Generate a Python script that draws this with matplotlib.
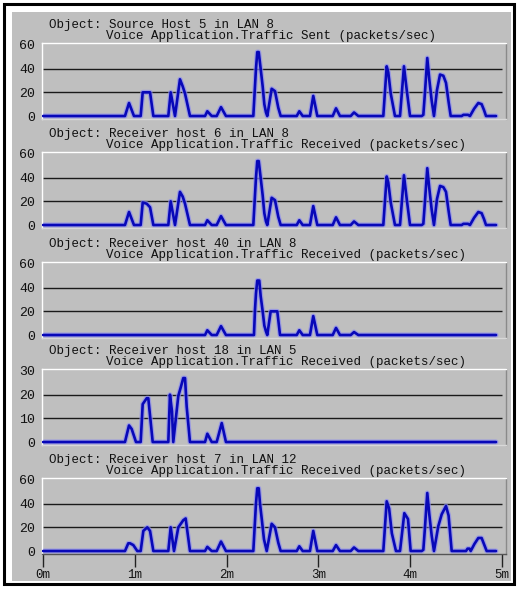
import matplotlib
matplotlib.use("Agg")
import matplotlib.pyplot as plt
from matplotlib.patches import Rectangle

# ---------------- data (time in minutes, packets/sec) ----------------
titles_obj = [
    "Object: Source Host 5 in LAN 8",
    "Object: Receiver host 6 in LAN 8",
    "Object: Receiver host 40 in LAN 8",
    "Object: Receiver host 18 in LAN 5",
    "Object: Receiver host 7 in LAN 12",
]
titles_stat = [
    "Voice Application.Traffic Sent (packets/sec)",
    "Voice Application.Traffic Received (packets/sec)",
    "Voice Application.Traffic Received (packets/sec)",
    "Voice Application.Traffic Received (packets/sec)",
    "Voice Application.Traffic Received (packets/sec)",
]
y_ticks_60 = [0, 20, 40, 60]
y_ticks_30 = [0, 10, 20, 30]
x_ticks = [0, 1, 2, 3, 4, 5]
x_labels = ["0m", "1m", "2m", "3m", "4m", "5m"]

src_host5 = [(0, 0), (0.893, 0), (0.937, 11), (0.991, 0), (1.064, 0), (1.086, 20), (1.166, 20),
             (1.202, 0), (1.365, 0), (1.391, 20), (1.438, 0), (1.492, 31), (1.522, 25), (1.547, 19),
             (1.601, 0), (1.765, 0), (1.790, 4), (1.838, 0), (1.892, 0), (1.939, 7.5), (1.993, 0),
             (2.291, 0), (2.309, 25), (2.320, 40), (2.334, 54), (2.350, 54), (2.371, 40), (2.393, 25),
             (2.411, 10), (2.429, 3), (2.443, 0), (2.491, 23), (2.527, 21), (2.563, 7), (2.589, 0),
             (2.764, 0), (2.792, 4), (2.829, 0), (2.908, 0), (2.944, 17), (2.988, 0), (3.156, 0),
             (3.192, 6.5), (3.235, 0), (3.352, 0), (3.388, 3), (3.435, 0), (3.707, 0), (3.744, 42),
             (3.761, 37), (3.788, 19), (3.834, 0), (3.889, 0), (3.932, 42), (3.962, 22), (3.998, 0),
             (4.125, 0), (4.143, 1), (4.161, 20), (4.186, 49), (4.208, 31), (4.234, 13), (4.259, 0),
             (4.292, 22), (4.325, 35), (4.361, 34), (4.390, 28), (4.418, 12), (4.441, 0), (4.561, 0),
             (4.579, 1), (4.630, 1), (4.651, 0), (4.695, 6), (4.742, 11), (4.778, 10), (4.804, 5),
             (4.826, 0), (4.935, 0)]

rcv_host6 = [(0, 0), (0.893, 0), (0.937, 11), (0.991, 0), (1.064, 0), (1.086, 19), (1.130, 18),
             (1.166, 15), (1.202, 0), (1.365, 0), (1.391, 20), (1.438, 0), (1.492, 28), (1.522, 24),
             (1.547, 18), (1.601, 0), (1.765, 0), (1.790, 4), (1.838, 0), (1.892, 0), (1.939, 7.5),
             (1.993, 0), (2.291, 0), (2.309, 25), (2.320, 40), (2.334, 54), (2.350, 54), (2.371, 40),
             (2.393, 25), (2.411, 10), (2.429, 3), (2.443, 0), (2.491, 23), (2.527, 21), (2.563, 7),
             (2.589, 0), (2.764, 0), (2.792, 4), (2.829, 0), (2.908, 0), (2.944, 16), (2.988, 0),
             (3.156, 0), (3.192, 6.5), (3.235, 0), (3.352, 0), (3.388, 3), (3.435, 0), (3.707, 0),
             (3.744, 41), (3.761, 36), (3.788, 19), (3.834, 0), (3.889, 0), (3.932, 42), (3.962, 22),
             (3.998, 0), (4.125, 0), (4.143, 1), (4.161, 20), (4.186, 48), (4.208, 31), (4.234, 13),
             (4.259, 0), (4.292, 22), (4.325, 33), (4.361, 32), (4.390, 28), (4.418, 12), (4.441, 0),
             (4.561, 0), (4.579, 1), (4.630, 1), (4.651, 0), (4.695, 6), (4.742, 11), (4.778, 10),
             (4.804, 5), (4.826, 0), (4.935, 0)]

rcv_host40 = [(0, 0), (1.765, 0), (1.790, 4), (1.838, 0), (1.892, 0), (1.939, 7.5), (1.993, 0),
              (2.298, 0), (2.309, 21), (2.320, 35), (2.334, 46), (2.356, 46), (2.371, 33),
              (2.393, 20), (2.411, 8), (2.429, 3), (2.443, 0), (2.480, 20), (2.552, 20), (2.582, 0),
              (2.764, 0), (2.792, 4), (2.829, 0), (2.908, 0), (2.944, 16), (2.988, 0), (3.156, 0),
              (3.192, 6), (3.235, 0), (3.352, 0), (3.388, 2.5), (3.435, 0), (4.935, 0)]

rcv_host18 = [(0, 0), (0.893, 0), (0.937, 7), (0.966, 5.5), (1.013, 0), (1.064, 0), (1.086, 16),
              (1.130, 18.5), (1.147, 18.5), (1.195, 0), (1.365, 0), (1.383, 20), (1.405, 13),
              (1.419, 0), (1.474, 19.5), (1.500, 23), (1.528, 27), (1.547, 27), (1.565, 15),
              (1.601, 0), (1.765, 0), (1.790, 3.5), (1.838, 0), (1.892, 0), (1.947, 8), (1.993, 0),
              (4.935, 0)]

rcv_host7 = [(0, 0), (0.893, 0), (0.929, 6.5), (0.948, 6.5), (0.984, 5), (1.027, 0), (1.064, 0),
             (1.093, 17), (1.136, 20), (1.166, 17), (1.202, 0), (1.365, 0), (1.391, 20), (1.427, 0),
             (1.474, 20), (1.528, 26), (1.554, 27.5), (1.601, 0), (1.765, 0), (1.790, 3.5),
             (1.838, 0), (1.892, 0), (1.939, 8), (1.993, 0), (2.291, 0), (2.309, 25), (2.320, 40),
             (2.334, 53), (2.350, 53), (2.364, 40), (2.386, 25), (2.407, 10), (2.437, 0),
             (2.491, 23), (2.527, 20), (2.563, 7), (2.589, 0), (2.764, 0), (2.792, 4), (2.829, 0),
             (2.908, 0), (2.944, 17), (2.988, 0), (3.156, 0), (3.192, 5), (3.235, 0), (3.352, 0),
             (3.388, 3), (3.435, 0), (3.707, 0), (3.744, 42), (3.770, 36), (3.800, 15), (3.845, 0),
             (3.889, 0), (3.936, 32), (3.976, 27), (4.005, 0), (4.125, 0), (4.143, 1), (4.161, 20),
             (4.186, 49), (4.208, 31), (4.234, 13), (4.259, 0), (4.306, 21), (4.343, 31),
             (4.390, 38), (4.418, 30), (4.452, 0), (4.608, 0), (4.625, 2), (4.647, 2), (4.659, 0),
             (4.700, 6), (4.742, 11), (4.778, 11), (4.833, 0), (4.935, 0)]

series = [src_host5, rcv_host6, rcv_host40, rcv_host18, rcv_host7]
yticks_per_panel = [y_ticks_60, y_ticks_60, y_ticks_60, y_ticks_30, y_ticks_60]

# ---------------- layout ----------------
W, H = 518, 590
fig = plt.figure(figsize=(W / 100, H / 100), dpi=100)
fig.patch.set_facecolor("white")
GRAY = "#bfbfbf"
MONO = ["Liberation Mono", "DejaVu Sans Mono"]


def fx(px):
    return px / W


def fy(py):
    return 1 - py / H


# gray background panel and black frame
fig.add_artist(Rectangle((fx(12), fy(581)), fx(511) - fx(12), fy(12) - fy(581),
                         transform=fig.transFigure, facecolor=GRAY, edgecolor="none", zorder=0))
fig.add_artist(Rectangle((fx(4), fy(584)), fx(514) - fx(4), fy(4) - fy(584),
                         transform=fig.transFigure, facecolor="none", edgecolor="black",
                         linewidth=2.2, zorder=5))

tops = [43, 152, 262, 369, 478]
ax_h = 76
left_px, right_px = 42, 506

for i, (data, yt) in enumerate(zip(series, yticks_per_panel)):
    top = tops[i]
    ax = fig.add_axes([fx(left_px), fy(top + ax_h), fx(right_px) - fx(left_px), ax_h / H])
    ax.set_facecolor(GRAY)
    ymax = yt[-1]
    ax.set_ylim(-ymax * 0.042, ymax * 1.028)
    ax.set_xlim(-1 / 91.8, 5 + 4 / 91.8)
    ax.hlines(yt[1:3], 0, 5, color="#1a1a1a", linewidth=1.0, zorder=1)
    t = [p[0] for p in data]
    v = [p[1] for p in data]
    ax.plot(t, v, color="#8a8af0", linewidth=3.6, alpha=0.7, zorder=2,
            solid_joinstyle="round", solid_capstyle="round")
    ax.plot(t, v, color="#0808b8", linewidth=1.9, zorder=3,
            solid_joinstyle="round", solid_capstyle="round")
    ax.set_yticks(yt)
    ax.set_yticklabels([str(k) for k in yt], family=MONO, fontsize=9.5, color="#111111")
    ax.tick_params(axis="y", length=0, pad=5)
    for side in ["top", "left"]:
        ax.spines[side].set_color("white")
        ax.spines[side].set_linewidth(1.0)
    ax.spines["right"].set_color("#8a8a8a")
    ax.spines["right"].set_linewidth(1.0)
    ax.spines["bottom"].set_color("#d8d8d8")
    ax.spines["bottom"].set_linewidth(1.0)
    if i == len(series) - 1:
        ax.set_xticks(x_ticks)
        ax.set_xticklabels(x_labels, family=MONO, fontsize=9, color="#111111")
        ax.tick_params(axis="x", direction="out", length=9, width=1.0, color="#222222", pad=2)
        ax.spines["bottom"].set_color("#555555")
    else:
        ax.set_xticks([])
    fig.text(fx(49), fy(top - 18), titles_obj[i], family=MONO, fontsize=9,
             ha="left", va="center", color="#111111")
    fig.text(fx(106), fy(top - 7), titles_stat[i], family=MONO, fontsize=9,
             ha="left", va="center", color="#111111")

fig.savefig("out.png", dpi=100, facecolor="white")
